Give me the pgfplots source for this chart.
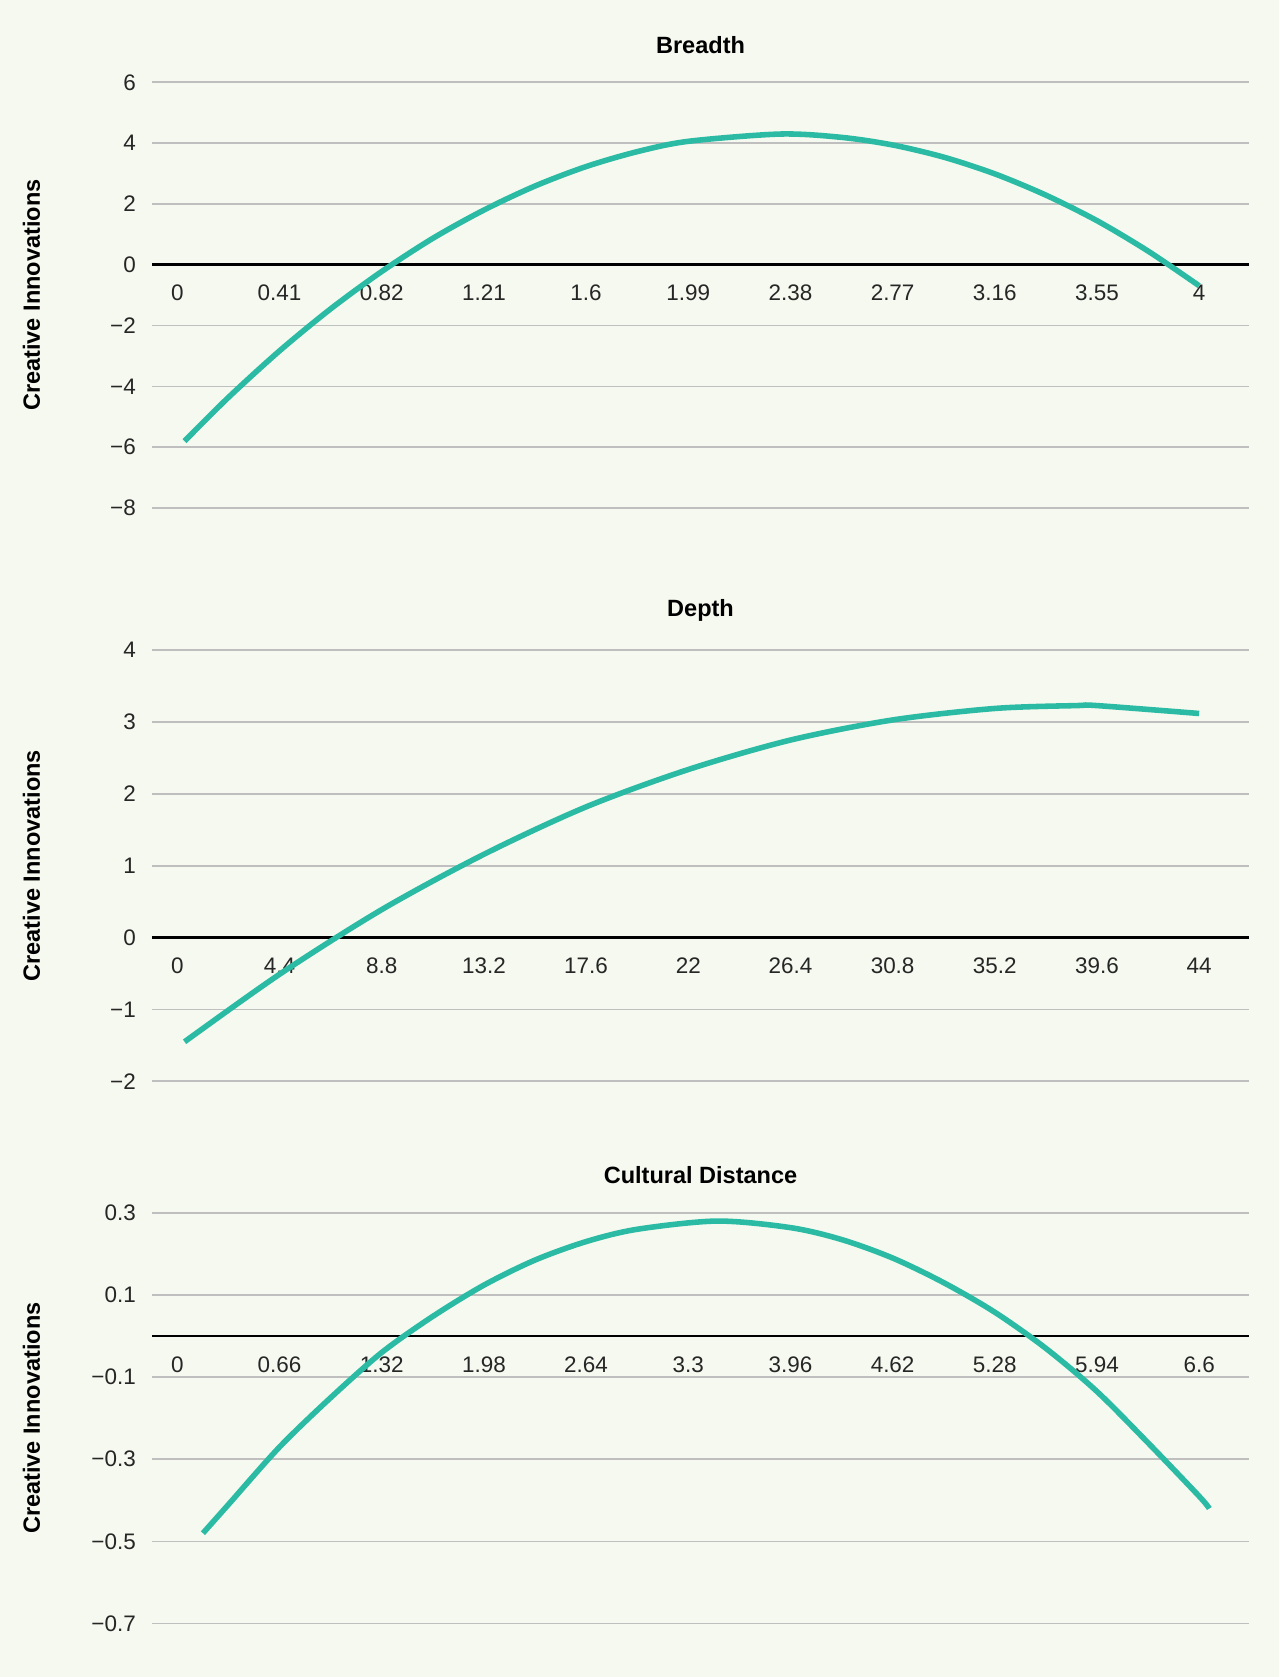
\documentclass[border=0pt]{standalone}
\usepackage{pgfplots}
\pgfplotsset{compat=1.18}
\usetikzlibrary{backgrounds}
\usepackage{fontspec}
\setmainfont{Liberation Sans}
\definecolor{bg}{HTML}{F6F9EF}
\definecolor{teal}{HTML}{2BBBA5}
\definecolor{grid}{HTML}{D2D4D0}
\pgfplotsset{
  panel/.style={
    scale only axis, width=513pt,
    xmin=-0.25, xmax=10.49,
    axis x line=middle, axis y line*=left,
    x axis line style={black, line width=1.2pt, -},
    y axis line style={draw=none},
    major tick length=0pt,
    xtick={0,...,10},
    xmajorgrids=false, ymajorgrids=true, grid style={grid, line width=0.8pt},
    tick label style={font=\fontsize{10.5}{12}\selectfont, text=black!85},
    xticklabel style={yshift=-6pt},
    yticklabel style={xshift=-4pt},
    ylabel={\bfseries Creative Innovations},
    ylabel style={font=\fontsize{11}{13}\selectfont, at={(axis description cs:-0.095,0.5)}},
    title style={font=\bfseries\fontsize{11}{13}\selectfont, yshift=4pt},
    clip=false,
  },
  curve/.style={teal, line width=2.6pt, smooth, no marks},
}
\begin{document}
\begin{tikzpicture}
\path (0,0) rectangle (598pt,-784pt);
\begin{axis}[panel, at={(71pt,-38.5pt)}, anchor=north west, height=199pt,
  ymin=-8, ymax=6, ytick={-8,-6,...,6},
  yticklabels={−8,−6,−4,−2,0,2,4,6},
  xticklabels={0,0.41,0.82,1.21,1.6,1.99,2.38,2.77,3.16,3.55,4},
  title={Breadth}]
\addplot[curve] coordinates {(0.07,-5.8)(0.5,-4.36)(1,-2.83)(1.5,-1.45)(2,-0.22)(2.5,0.87)(3,1.80)(3.5,2.59)(4,3.23)(4.5,3.72)(5,4.06)(5.9,4.3)(6.5,4.19)(7,3.94)(7.5,3.54)(8,2.99)(8.5,2.29)(9,1.45)(9.5,0.45)(10,-0.69)};
\end{axis}
\begin{axis}[panel, at={(71pt,-304pt)}, anchor=north west, height=201.5pt,
  ymin=-2, ymax=4, ytick={-2,...,4},
  yticklabels={−2,−1,0,1,2,3,4},
  xticklabels={0,4.4,8.8,13.2,17.6,22,26.4,30.8,35.2,39.6,44},
  title={Depth}]
\addplot[curve] coordinates {(0.07,-1.45)(1,-0.51)(2,0.39)(3,1.16)(4,1.82)(5,2.34)(6,2.75)(7,3.03)(8,3.19)(8.8,3.23)(9,3.23)(10,3.12)};
\end{axis}
\begin{axis}[panel, at={(71pt,-567pt)}, anchor=north west, height=192pt,
  ymin=-0.7, ymax=0.3, ytick={-0.7,-0.5,-0.3,-0.1,0.1,0.3},
  yticklabels={−0.7,−0.5,−0.3,−0.1,0.1,0.3},
  xticklabels={0,0.66,1.32,1.98,2.64,3.3,3.96,4.62,5.28,5.94,6.6},
  title={Cultural Distance}]
\draw[black!25, line width=1.2pt] (axis cs:-0.25,-0.1) -- (axis cs:10.49,-0.1);
\addplot[curve] coordinates {(0.25,-0.48)(0.5,-0.41)(1,-0.27)(1.5,-0.15)(2,-0.04)(2.5,0.048)(3,0.124)(3.5,0.185)(4,0.23)(4.5,0.26)(5.28,0.28)(6,0.264)(6.5,0.235)(7,0.19)(7.5,0.13)(8,0.058)(8.5,-0.03)(9,-0.135)(9.5,-0.26)(10,-0.39)(10.1,-0.42)};
\end{axis}
\begin{pgfonlayer}{background}
\fill[bg] (current bounding box.south west) rectangle (current bounding box.north east);
\end{pgfonlayer}
\end{tikzpicture}
\end{document}
